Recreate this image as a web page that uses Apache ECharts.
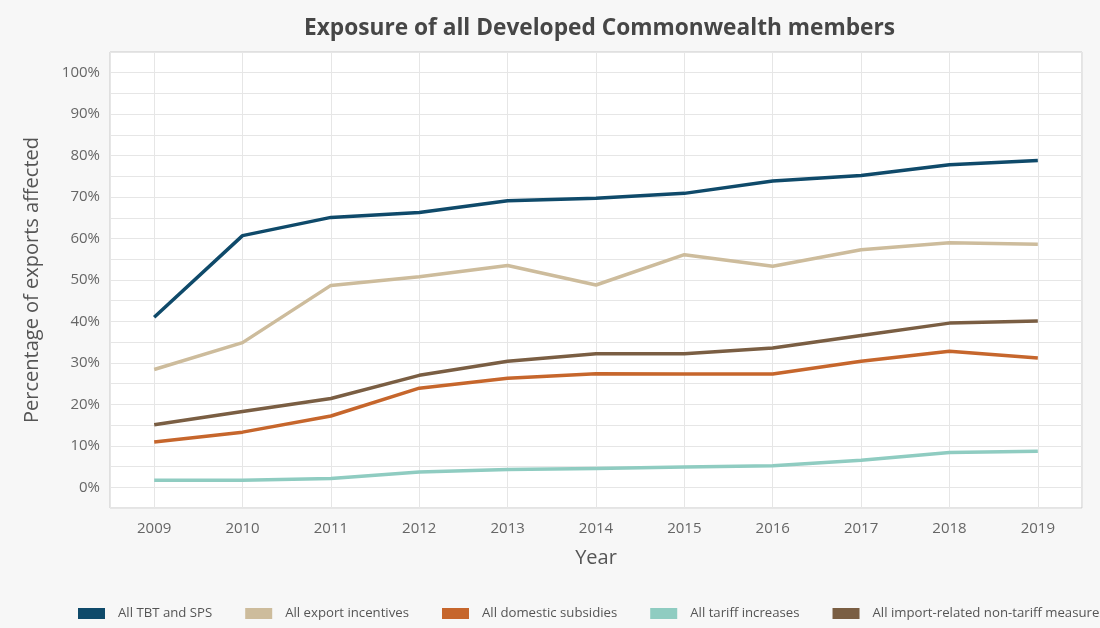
<!DOCTYPE html>
<html>
<head>
<meta charset="utf-8">
<title>Exposure of all Developed Commonwealth members</title>
<script src="https://cdn.jsdelivr.net/npm/echarts@6/dist/echarts.min.js"></script>
<style>
  html, body { margin: 0; padding: 0; background: #f7f7f7; }
  #chart { width: 1100px; height: 628px; }
</style>
</head>
<body>
<div id="chart"></div>
<script>
// Years on the horizontal axis
const years = [2009, 2010, 2011, 2012, 2013, 2014, 2015, 2016, 2017, 2018, 2019];

// Share of exports affected (%), one array per measure group
const tbtSps          = [41.0, 60.7, 65.1, 66.3, 69.1, 69.7, 70.9, 73.9, 75.2, 77.8, 78.8];
const exportIncent    = [28.4, 34.9, 48.7, 50.8, 53.5, 48.8, 56.1, 53.3, 57.3, 59.0, 58.6];
const domesticSubs    = [10.9, 13.3, 17.2, 23.9, 26.3, 27.4, 27.3, 27.3, 30.4, 32.8, 31.2];
const tariffIncr      = [1.7, 1.7, 2.1, 3.7, 4.3, 4.5, 4.9, 5.2, 6.5, 8.4, 8.7];
const importNonTariff = [15.1, 18.3, 21.4, 27.0, 30.4, 32.2, 32.2, 33.6, 36.6, 39.6, 40.1];

// Legend / series names
const seriesNames = [
  'All TBT and SPS',
  'All export incentives',
  'All domestic subsidies',
  'All tariff increases',
  'All import-related non-tariff measures'
];

// Y tick labels shown every 10%
const yTickValues = [0, 10, 20, 30, 40, 50, 60, 70, 80, 90, 100];

const colors = ['#0f4a6a', '#cdbc9c', '#c6662c', '#8fccc1', '#7a5e43'];
const seriesValues = [tbtSps, exportIncent, domesticSubs, tariffIncr, importNonTariff];

const font = "'Open Sans', 'Noto Sans', sans-serif";

const chart = echarts.init(document.getElementById('chart'), null, { renderer: 'canvas' });

chart.setOption({
  backgroundColor: '#f7f7f7',
  animation: false,
  color: colors,
  title: {
    text: 'Exposure of all Developed Commonwealth members',
    left: 299,
    top: 12,
    textStyle: { fontFamily: font, fontSize: 22.7, fontWeight: 'bold', color: '#464646' }
  },
  legend: {
    left: 73,
    top: 602,
    width: 1600,
    icon: 'rect',
    itemWidth: 27,
    itemHeight: 11,
    itemGap: 33,
    textStyle: { fontFamily: font, fontSize: 13.2, color: '#555', padding: [0, 0, 0, 8] },
    data: seriesNames
  },
  grid: {
    left: 110,
    right: 18,
    top: 52,
    bottom: 120,
    show: true,
    backgroundColor: '#ffffff',
    borderColor: '#c9c9c9',
    borderWidth: 1,
    containLabel: false
  },
  xAxis: {
    type: 'value',
    min: 2008.5,
    max: 2019.5,
    minInterval: 1,
    maxInterval: 1,
    name: 'Year',
    nameLocation: 'middle',
    nameGap: 40,
    nameTextStyle: { fontFamily: font, fontSize: 20, color: '#555' },
    axisLine: { show: false },
    axisTick: { show: false },
    axisLabel: {
      fontFamily: font, fontSize: 15, color: '#666', margin: 13,
      showMinLabel: false, showMaxLabel: false,
      formatter: v => (Number.isInteger(v) && years.includes(v)) ? String(v) : ''
    },
    splitLine: { show: true, lineStyle: { color: '#e6e6e6', width: 1 } }
  },
  yAxis: {
    type: 'value',
    min: -5,
    max: 105,
    interval: 5,
    name: 'Percentage of exports affected',
    nameLocation: 'middle',
    nameGap: 68,
    nameRotate: 90,
    nameTextStyle: { fontFamily: font, fontSize: 20, color: '#555' },
    axisLine: { show: false },
    axisTick: { show: false },
    axisLabel: {
      fontFamily: font, fontSize: 15, color: '#666', margin: 10,
      formatter: v => yTickValues.includes(v) ? v + '%' : ''
    },
    splitLine: { show: true, lineStyle: { color: '#e6e6e6', width: 1 } }
  },
  series: seriesNames.map((name, i) => ({
    name: name,
    type: 'line',
    data: years.map((y, j) => [y, seriesValues[i][j]]),
    showSymbol: false,
    symbol: 'none',
    lineStyle: { width: 3.5, color: colors[i], cap: 'butt', join: 'round' },
    itemStyle: { color: colors[i] }
  }))
});
</script>
</body>
</html>
